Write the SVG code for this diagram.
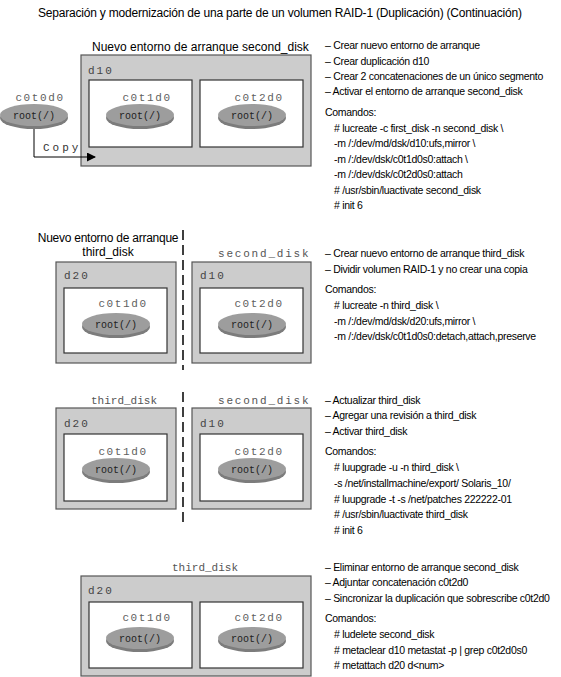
<svg xmlns="http://www.w3.org/2000/svg" xmlns:xlink="http://www.w3.org/1999/xlink" width="561" height="677" viewBox="0 0 561 677">
<style>
.bg{fill:#ffffff}
.vol{fill:#cccccc;stroke:#555555;stroke-width:1.2}
.dsk{fill:#ffffff;stroke:#333333;stroke-width:1.2}
.sans{font-family:"Liberation Sans",Arial,sans-serif;font-size:10.5px;letter-spacing:-0.3px;fill:#000}
.title{font-family:"Liberation Sans",Arial,sans-serif;font-size:12px;letter-spacing:-0.2px;fill:#000}
.head{font-family:"Liberation Sans",Arial,sans-serif;font-size:12px;fill:#000}
.mono{font-family:"Liberation Mono","DejaVu Sans Mono",monospace;font-size:11px;fill:#606060;letter-spacing:1.6px}
.vlab{font-family:"Liberation Mono","DejaVu Sans Mono",monospace;font-size:11px;fill:#444;letter-spacing:2px}
.env{font-family:"Liberation Mono","DejaVu Sans Mono",monospace;font-size:11px;fill:#555}
.root{font-family:"Liberation Mono","DejaVu Sans Mono",monospace;font-size:10px;fill:#222;text-anchor:middle}
.sep{stroke:#000;stroke-width:1.5;stroke-dasharray:10,5;fill:none}
.conn{stroke:#000;stroke-width:1;fill:none}
</style>
<defs>
<g id="disk">
<ellipse cx="0" cy="3" rx="34" ry="11" fill="#7c7c7c"/>
<ellipse cx="0" cy="0" rx="34" ry="11" fill="#9d9d9d"/>
</g>
<marker id="arr" markerWidth="9" markerHeight="9" refX="8" refY="4.5" orient="auto" markerUnits="userSpaceOnUse">
<path d="M0,0 L9,4.5 L0,9 Z" fill="#000"/>
</marker>
</defs>
<rect class="bg" x="0" y="0" width="561" height="677"/>
<text class="title" x="38" y="17">Separación y modernización de una parte de un volumen RAID-1 (Duplicación) (Continuación)</text>

<!-- Panel 1 -->
<g id="p1-env-label"><text class="head" x="92" y="51">Nuevo entorno de arranque second_disk</text></g>
<g id="p1-d10">
<rect class="vol" x="81" y="55" width="230" height="111"/>
<text class="vlab" x="88" y="74">d10</text>
</g>
<g id="p1-c0t0d0">
<text class="mono" x="40" y="101" text-anchor="middle">c0t0d0</text>
<use xlink:href="#disk" x="34" y="115"/>
<text class="root" x="34" y="119">root(/)</text>
</g>
<g id="p1-c0t1d0">
<rect class="dsk" x="89" y="80" width="103" height="67"/>
<text class="mono" x="147" y="101" text-anchor="middle">c0t1d0</text>
<use xlink:href="#disk" x="140" y="115"/>
<text class="root" x="140" y="119">root(/)</text>
</g>
<g id="p1-c0t2d0">
<rect class="dsk" x="200" y="80" width="103" height="67"/>
<text class="mono" x="259" y="101" text-anchor="middle">c0t2d0</text>
<use xlink:href="#disk" x="252" y="115"/>
<text class="root" x="252" y="119">root(/)</text>
</g>
<g id="connectors">
<path class="conn" d="M34,129 V157 H95" marker-end="url(#arr)"/>
<text class="mono" x="43" y="151" style="fill:#333;letter-spacing:3px">Copy</text>
</g>
<g id="p1-text">
<text class="sans" x="325" y="49">– Crear nuevo entorno de arranque</text>
<text class="sans" x="325" y="65">– Crear duplicación d10</text>
<text class="sans" x="325" y="80">– Crear 2 concatenaciones de un único segmento</text>
<text class="sans" x="325" y="95">– Activar el entorno de arranque second_disk</text>
<text class="sans" x="325" y="116">Comandos:</text>
<text class="sans" x="334" y="132">#  lucreate -c first_disk -n second_disk \</text>
<text class="sans" x="334" y="147">-m /:/dev/md/dsk/d10:ufs,mirror \</text>
<text class="sans" x="334" y="163">-m /:/dev/dsk/c0t1d0s0:attach \</text>
<text class="sans" x="334" y="178">-m /:/dev/dsk/c0t2d0s0:attach</text>
<text class="sans" x="334" y="194">#  /usr/sbin/luactivate second_disk</text>
<text class="sans" x="334" y="209">#  init 6</text>
</g>

<!-- Panel 2 -->
<g id="p2-env-label">
<text class="title" x="108" y="242" text-anchor="middle" style="letter-spacing:-0.25px">Nuevo entorno de arranque</text>
<text class="head" x="108" y="256" text-anchor="middle">third_disk</text>
<text class="env" x="218" y="257" style="letter-spacing:1.8px">second_disk</text>
</g>
<line class="sep" x1="183" y1="230" x2="183" y2="370"/>
<g id="p2-d20">
<rect class="vol" x="56" y="262" width="120" height="101"/>
<text class="vlab" x="64" y="279">d20</text>
</g>
<g id="p2-c0t1d0">
<rect class="dsk" x="64" y="288" width="103" height="65"/>
<text class="mono" x="123" y="307" text-anchor="middle">c0t1d0</text>
<use xlink:href="#disk" x="116" y="324"/>
<text class="root" x="116" y="328">root(/)</text>
</g>
<g id="p2-d10">
<rect class="vol" x="192" y="262" width="119" height="101"/>
<text class="vlab" x="200" y="279">d10</text>
</g>
<g id="p2-c0t2d0">
<rect class="dsk" x="200" y="288" width="103" height="65"/>
<text class="mono" x="259" y="307" text-anchor="middle">c0t2d0</text>
<use xlink:href="#disk" x="252" y="324"/>
<text class="root" x="252" y="328">root(/)</text>
</g>
<g id="p2-text">
<text class="sans" x="325" y="257">– Crear nuevo entorno de arranque third_disk</text>
<text class="sans" x="325" y="273">– Dividir volumen RAID-1 y no crear una copia</text>
<text class="sans" x="325" y="293">Comandos:</text>
<text class="sans" x="334" y="309">#  lucreate -n third_disk \</text>
<text class="sans" x="334" y="325">-m /:/dev/md/dsk/d20:ufs,mirror \</text>
<text class="sans" x="334" y="340">-m /:/dev/dsk/c0t1d0s0:detach,attach,preserve</text>
</g>

<!-- Panel 3 -->
<g id="p3-env-label">
<text class="env" x="91" y="404">third_disk</text>
<text class="env" x="218" y="404" style="letter-spacing:1.8px">second_disk</text>
</g>
<line class="sep" x1="183" y1="392" x2="183" y2="523"/>
<g id="p3-d20">
<rect class="vol" x="56" y="408" width="120" height="101"/>
<text class="vlab" x="64" y="427">d20</text>
</g>
<g id="p3-c0t1d0">
<rect class="dsk" x="64" y="434" width="103" height="67"/>
<text class="mono" x="123" y="455" text-anchor="middle">c0t1d0</text>
<use xlink:href="#disk" x="116" y="469"/>
<text class="root" x="116" y="473">root(/)</text>
</g>
<g id="p3-d10">
<rect class="vol" x="192" y="408" width="119" height="101"/>
<text class="vlab" x="200" y="427">d10</text>
</g>
<g id="p3-c0t2d0">
<rect class="dsk" x="200" y="434" width="103" height="67"/>
<text class="mono" x="259" y="455" text-anchor="middle">c0t2d0</text>
<use xlink:href="#disk" x="252" y="469"/>
<text class="root" x="252" y="473">root(/)</text>
</g>
<g id="p3-text">
<text class="sans" x="325" y="404">– Actualizar third_disk</text>
<text class="sans" x="325" y="419">– Agregar una revisión a third_disk</text>
<text class="sans" x="325" y="435">– Activar third_disk</text>
<text class="sans" x="325" y="455">Comandos:</text>
<text class="sans" x="334" y="471">#  luupgrade -u -n third_disk \</text>
<text class="sans" x="334" y="487">-s /net/installmachine/export/ Solaris_10/</text>
<text class="sans" x="334" y="503">#  luupgrade -t -s /net/patches 222222-01</text>
<text class="sans" x="334" y="518">#  /usr/sbin/luactivate third_disk</text>
<text class="sans" x="334" y="534">#  init 6</text>
</g>

<!-- Panel 4 -->
<g id="p4-env-label">
<text class="env" x="172" y="571">third_disk</text>
</g>
<g id="p4-d20">
<rect class="vol" x="81" y="576" width="230" height="100"/>
<text class="vlab" x="88" y="594">d20</text>
</g>
<g id="p4-c0t1d0">
<rect class="dsk" x="89" y="602" width="103" height="66"/>
<text class="mono" x="147" y="621" text-anchor="middle">c0t1d0</text>
<use xlink:href="#disk" x="140" y="638"/>
<text class="root" x="140" y="642">root(/)</text>
</g>
<g id="p4-c0t2d0">
<rect class="dsk" x="200" y="602" width="103" height="66"/>
<text class="mono" x="259" y="621" text-anchor="middle">c0t2d0</text>
<use xlink:href="#disk" x="252" y="638"/>
<text class="root" x="252" y="642">root(/)</text>
</g>
<g id="p4-text">
<text class="sans" x="325" y="571">– Eliminar entorno de arranque second_disk</text>
<text class="sans" x="325" y="586">– Adjuntar concatenación c0t2d0</text>
<text class="sans" x="325" y="602">– Sincronizar la duplicación que sobrescribe c0t2d0</text>
<text class="sans" x="325" y="622">Comandos:</text>
<text class="sans" x="334" y="638">#  ludelete second_disk</text>
<text class="sans" x="334" y="654">#  metaclear d10 metastat -p | grep c0t2d0s0</text>
<text class="sans" x="334" y="669">#  metattach d20 d&lt;num&gt;</text>
</g>
</svg>
